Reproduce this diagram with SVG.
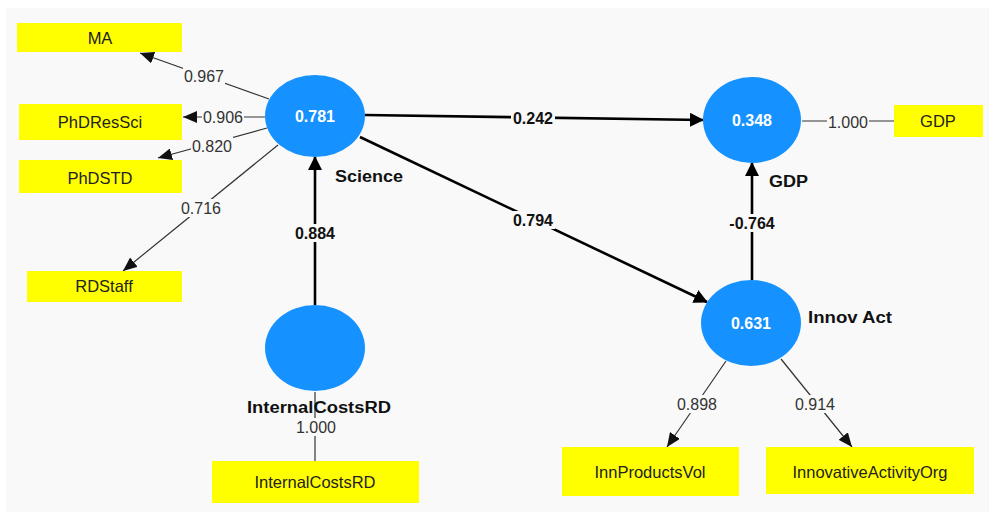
<svg xmlns="http://www.w3.org/2000/svg" width="989" height="512" viewBox="0 0 989 512">
<defs>
<style>
.bg{fill:#f9f9f9}
.lv{fill:#1592ff}
.ind{fill:#ffff00}
.thin{stroke:#333;stroke-width:1.2;fill:none}
.bold{stroke:#000;stroke-width:2.6;fill:none}
.gap{fill:#f9f9f9}
.ld{font-family:"Liberation Sans",Arial,sans-serif;font-size:16px;fill:#333;text-anchor:middle}
.pc{font-family:"Liberation Sans",Arial,sans-serif;font-size:16px;font-weight:bold;fill:#111;text-anchor:middle}
.val{font-family:"Liberation Sans",Arial,sans-serif;font-size:16px;font-weight:bold;fill:#fff;text-anchor:middle}
.nm{font-family:"Liberation Sans",Arial,sans-serif;font-size:16px;font-weight:bold;fill:#111}
.bx{font-family:"Liberation Sans",Arial,sans-serif;font-size:16.5px;fill:#222;text-anchor:middle}
</style>
<marker id="ab" markerUnits="userSpaceOnUse" markerWidth="14" markerHeight="14" viewBox="0 0 14 14" refX="13" refY="7" orient="auto">
<path d="M0,0 L14,7 L0,14 z" fill="#000"/>
</marker>
<marker id="at" markerUnits="userSpaceOnUse" markerWidth="14" markerHeight="12" viewBox="0 0 14 12" refX="14" refY="6" orient="auto">
<path d="M0,0 L14,6 L0,12 z" fill="#111"/>
</marker>
</defs>
<rect x="0" y="0" width="989" height="512" fill="#fff"/>
<rect class="bg" x="6" y="8" width="983" height="504"/>

<g id="connectors">
<line class="thin" x1="269" y1="99" x2="140" y2="53" marker-end="url(#at)"/>
<line class="thin" x1="265" y1="117" x2="183" y2="117" marker-end="url(#at)"/>
<line class="thin" x1="267" y1="128" x2="158" y2="158" marker-end="url(#at)"/>
<line class="thin" x1="278" y1="145" x2="123" y2="271" marker-end="url(#at)"/>
<line class="thin" x1="802" y1="121" x2="894" y2="121"/>
<line class="thin" x1="315" y1="392" x2="315" y2="461"/>
<line class="thin" x1="726" y1="361" x2="667" y2="447" marker-end="url(#at)"/>
<line class="thin" x1="781" y1="359" x2="852" y2="447" marker-end="url(#at)"/>
<line class="bold" x1="365" y1="115" x2="703" y2="120" marker-end="url(#ab)"/>
<line class="bold" x1="360" y1="137" x2="707" y2="302" marker-end="url(#ab)"/>
<line class="bold" x1="315" y1="305" x2="315" y2="157" marker-end="url(#ab)"/>
<line class="bold" x1="752" y1="280" x2="752" y2="163" marker-end="url(#ab)"/>

<rect class="gap" x="183" y="67" width="42" height="18"/>
<text class="ld" x="204" y="82">0.967</text>
<rect class="gap" x="202" y="108" width="42" height="18"/>
<text class="ld" x="223" y="123">0.906</text>
<rect class="gap" x="191" y="137" width="42" height="18"/>
<text class="ld" x="212" y="152">0.820</text>
<rect class="gap" x="180" y="199" width="42" height="18"/>
<text class="ld" x="201" y="214">0.716</text>
<rect class="gap" x="827" y="113" width="42" height="18"/>
<text class="ld" x="848" y="128">1.000</text>
<rect class="gap" x="295" y="418" width="42" height="18"/>
<text class="ld" x="316" y="433">1.000</text>
<rect class="gap" x="676" y="395" width="42" height="18"/>
<text class="ld" x="697" y="410">0.898</text>
<rect class="gap" x="794" y="395" width="42" height="18"/>
<text class="ld" x="815" y="410">0.914</text>

<rect class="gap" x="511" y="109" width="44" height="18"/>
<text class="pc" x="533" y="124">0.242</text>
<rect class="gap" x="511" y="211" width="44" height="18"/>
<text class="pc" x="533" y="226">0.794</text>
<rect class="gap" x="293" y="224" width="44" height="18"/>
<text class="pc" x="315" y="239">0.884</text>
<rect class="gap" x="726" y="214" width="52" height="18"/>
<text class="pc" x="752" y="229">-0.764</text>
</g>

<g id="node-science">
<ellipse class="lv" cx="315" cy="116" rx="50" ry="41"/>
<text class="val" x="315" y="122">0.781</text>
<text class="nm" x="335" y="182" textLength="68" lengthAdjust="spacingAndGlyphs">Science</text>
</g>
<g id="node-gdp">
<ellipse class="lv" cx="752" cy="120" rx="49" ry="43"/>
<text class="val" x="752" y="126">0.348</text>
<text class="nm" x="769" y="187" textLength="39" lengthAdjust="spacingAndGlyphs">GDP</text>
</g>
<g id="node-innovact">
<ellipse class="lv" cx="751" cy="323" rx="50" ry="43"/>
<text class="val" x="751" y="329">0.631</text>
<text class="nm" x="808" y="323" textLength="84" lengthAdjust="spacingAndGlyphs">Innov Act</text>
</g>
<g id="node-internalcostsrd">
<ellipse class="lv" cx="315" cy="348" rx="50" ry="43"/>
<text class="nm" x="247" y="413" textLength="144" lengthAdjust="spacingAndGlyphs">InternalCostsRD</text>
</g>

<g id="ind-ma"><rect class="ind" x="17" y="23" width="165" height="29"/><text class="bx" x="100" y="44">MA</text></g>
<g id="ind-phdressci"><rect class="ind" x="19" y="104" width="163" height="36"/><text class="bx" x="100" y="128">PhDResSci</text></g>
<g id="ind-phdstd"><rect class="ind" x="19" y="160" width="163" height="33"/><text class="bx" x="100" y="184">PhDSTD</text></g>
<g id="ind-rdstaff"><rect class="ind" x="27" y="271" width="155" height="31"/><text class="bx" x="104" y="292">RDStaff</text></g>
<g id="ind-gdp"><rect class="ind" x="894" y="105" width="89" height="32"/><text class="bx" x="938" y="127">GDP</text></g>
<g id="ind-internalcostsrd"><rect class="ind" x="212" y="461" width="207" height="42"/><text class="bx" x="315" y="488">InternalCostsRD</text></g>
<g id="ind-innproductsvol"><rect class="ind" x="562" y="447" width="177" height="49"/><text class="bx" x="650" y="478">InnProductsVol</text></g>
<g id="ind-innovativeactivityorg"><rect class="ind" x="766" y="447" width="208" height="47"/><text class="bx" x="870" y="478">InnovativeActivityOrg</text></g>
</svg>
